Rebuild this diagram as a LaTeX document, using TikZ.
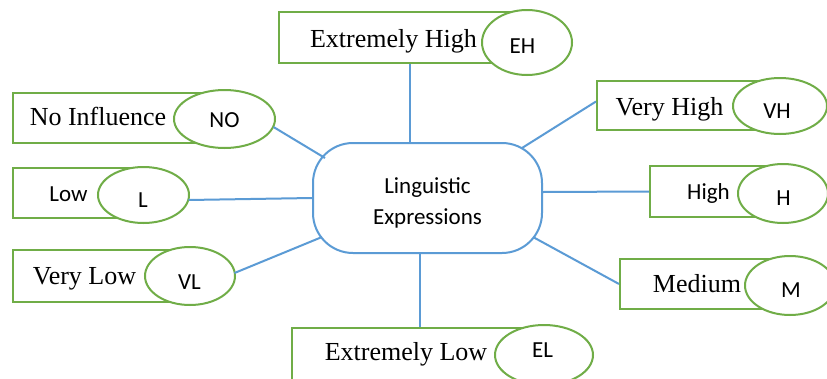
\documentclass[tikz,border=0pt]{standalone}
\usepackage{fontspec}
\setmainfont{Liberation Serif}
\newfontfamily\calfont{Carlito}
\usetikzlibrary{shapes.geometric,calc}
\definecolor{grn}{HTML}{70AD47}
\definecolor{blu}{HTML}{5B9BD5}
\begin{document}
\begin{tikzpicture}[x=1pt,y=-1pt,
  box/.style={draw=grn, line width=2pt, fill=white, rectangle, inner sep=0pt},
  oval/.style={draw=grn, line width=2pt, fill=white, ellipse, inner sep=0pt},
  pill/.style={draw=blu, line width=2pt, fill=white, rectangle, rounded corners=40pt, inner sep=0pt},
  link/.style={draw=blu, line width=2pt},
  serif/.style={font=\fontsize{26}{30}\selectfont, anchor=base, inner sep=0pt},
  sans/.style={font=\calfont\fontsize{23}{28}\selectfont, anchor=base, inner sep=0pt}]
\useasboundingbox (0,0) rectangle (827,378);
\clip (0,0) rectangle (827,378);
\fill[white] (0,0) rectangle (827,378);
% boxes
\node[box, minimum width=248pt, minimum height=51pt] (EHb) at (403,37.5) {};
\node[box, minimum width=211pt, minimum height=50pt] (NOb) at (118.5,118) {};
\node[box, minimum width=130pt, minimum height=50pt] (Lb) at (78,193) {};
\node[box, minimum width=177pt, minimum height=52pt] (VLb) at (101.5,276) {};
\node[box, minimum width=183pt, minimum height=49pt] (VHb) at (688.5,105.5) {};
\node[box, minimum width=133pt, minimum height=51pt] (Hb) at (716.5,191.5) {};
\node[box, minimum width=170pt, minimum height=50pt] (Mb) at (705,284) {};
\node[box, minimum width=252pt, minimum height=67pt] (ELb) at (418,361.5) {};
% ovals
\node[oval, minimum width=90pt, minimum height=65pt] (EHe) at (527,42.5) {};
\node[oval, minimum width=101pt, minimum height=58pt] (NOe) at (224.5,119) {};
\node[oval, minimum width=91pt, minimum height=56pt] (Le) at (143.5,195) {};
\node[oval, minimum width=90pt, minimum height=58pt] (VLe) at (190,276) {};
\node[oval, minimum width=94pt, minimum height=56pt] (VHe) at (780,106) {};
\node[oval, minimum width=90pt, minimum height=59pt] (He) at (783,193.5) {};
\node[oval, minimum width=90pt, minimum height=59pt] (Me) at (790,285.5) {};
\node[oval, minimum width=98pt, minimum height=60pt] (ELe) at (544,355) {};
% centre
\node[pill, minimum width=229pt, minimum height=110pt] (C) at (427.5,198) {};
% texts
\node[serif] (EHt) at (393.5,47) {Extremely High};
\node[serif] (NOt) at (98,125) {No Influence};
\node[sans]  (Lt)  at (68.5,201) {Low};
\node[serif] (VLt) at (84.5,284) {Very Low};
\node[serif] (VHt) at (669.5,115) {Very High};
\node[sans]  (Ht)  at (708.5,199) {High};
\node[serif] (Mt)  at (697,292) {Medium};
\node[serif] (ELt) at (406,360) {Extremely Low};
\node[sans] (EHa) at (522.5,53) {EH};
\node[sans] (NOa) at (224.5,127) {NO};
\node[sans] (La)  at (143,207) {L};
\node[sans] (VLa) at (189.5,289) {VL};
\node[sans] (VHa) at (777,118) {VH};
\node[sans] (Ha)  at (783.5,205) {H};
\node[sans] (Ma)  at (791,297) {M};
\node[sans] (ELa) at (542.5,357) {EL};
\node[sans] (C1) at (427.5,193) {Linguistic};
\node[sans] (C2) at (427.5,224) {Expressions};
% connectors
\draw[link] ([xshift=7pt]EHb.south) -- ([xshift=7pt]EHb.south |- C.north);
\draw[link] ([xshift=2pt]ELb.north) -- ([xshift=2pt]ELb.north |- C.south);
\draw[link] ($(NOe.center)+(49,8)$) -- ($(C.center)+(-102.5,-40)$);
\draw[link] ($(Le.center)+(45,5)$) -- (C.west);
\draw[link] ($(VLe.center)+(44.5,-3)$) -- ($(C.center)+(-105.5,39)$);
\draw[link] ($(C.center)+(94.5,-50)$) -- ([yshift=4pt]VHb.west);
\draw[link] ([yshift=6pt]C.east) -- (Hb.west);
\draw[link] ($(C.center)+(105.5,39)$) -- (Mb.west);
\end{tikzpicture}
\end{document}
